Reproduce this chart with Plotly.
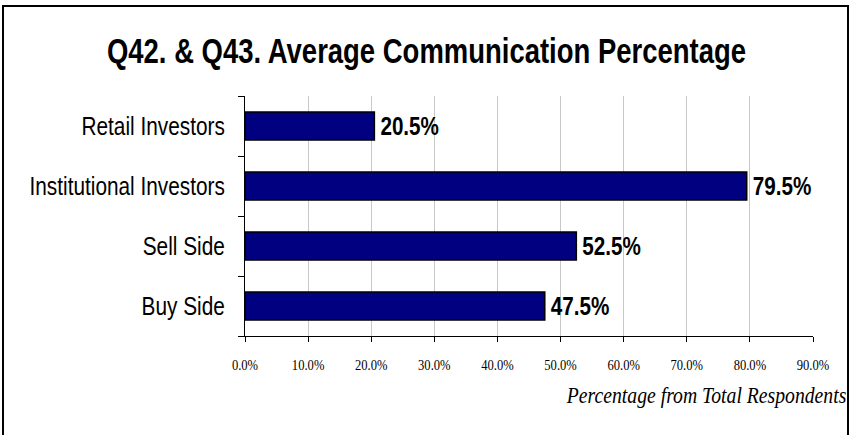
import plotly.graph_objects as go

# Survey results: average communication share by audience
categories = ["Retail Investors", "Institutional Investors", "Sell Side", "Buy Side"]
values = [20.5, 79.5, 52.5, 47.5]
tick_values = [0, 10, 20, 30, 40, 50, 60, 70, 80, 90]
tick_labels = ["0.0%", "10.0%", "20.0%", "30.0%", "40.0%", "50.0%",
               "60.0%", "70.0%", "80.0%", "90.0%"]

W, H = 851, 435
L, R, T, B = 245, 38, 96, 99
PW, PH = W - L - R, H - T - B

SANS = "Liberation Sans, Arial, sans-serif"
SERIF = "Liberation Serif, Times New Roman, serif"


def px_to_paper_x(px):
    return (px - L) / PW


def px_to_paper_y(py):
    return (H - B - py) / PH


fig = go.Figure(
    go.Bar(
        x=values,
        y=categories,
        orientation="h",
        width=0.47,
        marker=dict(color="#000080", line=dict(color="black", width=1.5)),
        texttemplate="%{x:.1f}%",
        textposition="outside",
        textfont=dict(family=SANS, size=25.5, color="black", weight="bold"),
        constraintext="none",
        cliponaxis=False,
        hoverinfo="skip",
    )
)

fig.update_layout(
    width=W,
    height=H,
    margin=dict(l=L, r=R, t=T, b=B, pad=0, autoexpand=False),
    paper_bgcolor="white",
    plot_bgcolor="white",
    showlegend=False,
    bargap=0.53,
    title=dict(
        text="<b>Q42. & Q43. Average Communication Percentage</b>",
        font=dict(family=SANS, size=35, color="black"),
        x=0.5,
        xanchor="center",
        y=1 - 51 / H,
        yanchor="middle",
    ),
    xaxis=dict(
        range=[0, 90],
        automargin=False,
        tickmode="array",
        tickvals=tick_values,
        ticktext=tick_labels,
        tickfont=dict(family=SERIF, size=15, color="black"),
        ticks="outside",
        ticklen=5,
        tickcolor="black",
        ticklabelstandoff=10,
        showline=True,
        linecolor="black",
        linewidth=1,
        showgrid=True,
        gridcolor="#c8c8c8",
        gridwidth=1,
        zeroline=False,
        fixedrange=True,
    ),
    yaxis=dict(
        categoryorder="array",
        categoryarray=categories[::-1],
        automargin=False,
        tickfont=dict(family=SANS, size=26, color="black"),
        ticks="outside",
        tickson="boundaries",
        ticklen=6,
        tickcolor="black",
        ticklabelstandoff=14,
        showline=True,
        linecolor="black",
        linewidth=1,
        showgrid=False,
        zeroline=False,
        fixedrange=True,
    ),
    shapes=[
        dict(
            type="rect",
            xref="paper",
            yref="paper",
            x0=px_to_paper_x(3),
            x1=px_to_paper_x(848),
            y0=px_to_paper_y(445),
            y1=px_to_paper_y(6),
            line=dict(color="black", width=2),
            fillcolor="rgba(0,0,0,0)",
            layer="below",
        )
    ],
    annotations=[
        dict(
            text="<i>Percentage from Total Respondents</i>",
            xref="paper",
            yref="paper",
            x=px_to_paper_x(848),
            y=px_to_paper_y(395),
            xanchor="right",
            yanchor="middle",
            showarrow=False,
            font=dict(family=SERIF, size=23, color="black"),
        )
    ],
)

# Condense the lettering horizontally (narrow-face look), keeping each
# label pinned at its anchor edge.
condense_js = """
var gd = document.getElementById('{plot_id}');
function squeeze(sel, sx, mode, dx) {
  gd.querySelectorAll(sel).forEach(function (t) {
    if (t.getAttribute('data-sq')) return;
    var b = t.getBBox();
    var px = mode === 'left' ? b.x : (mode === 'right' ? b.x + b.width : b.x + b.width / 2);
    var tr = t.getAttribute('transform') || '';
    t.setAttribute('transform', tr + ' translate(' + (px + (dx || 0)) + ',0) scale(' + sx + ',1) translate(' + (-px) + ',0)');
    t.setAttribute('data-sq', '1');
  });
}
squeeze('.gtitle', 0.785, 'center', 1);
squeeze('.ytick text', 0.8, 'right', 0);
squeeze('.bartext', 0.81, 'left', 3);
squeeze('.xtick text', 0.84, 'center', 0);
squeeze('.annotation-text', 0.857, 'right', 0);
"""

fig.write_html("out.html", post_script=condense_js)
